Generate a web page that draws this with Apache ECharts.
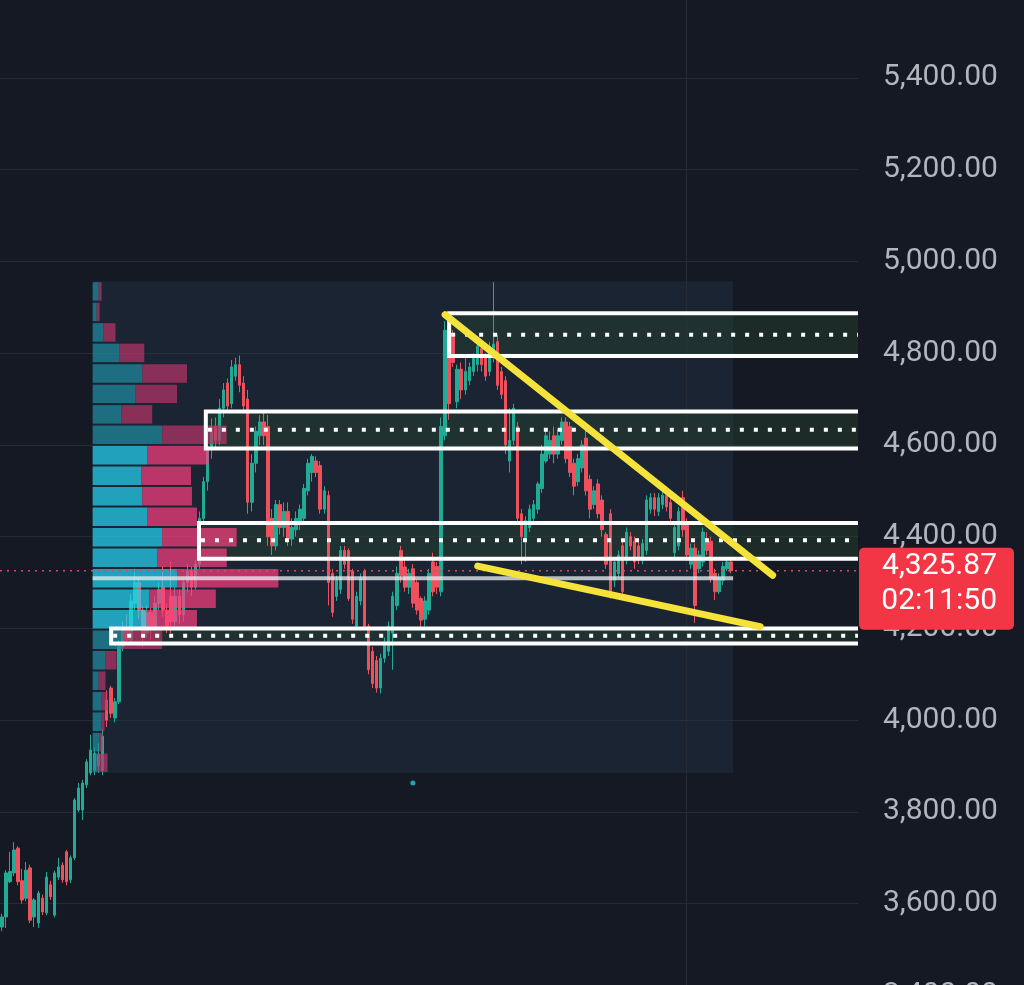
<!DOCTYPE html>
<html><head><meta charset="utf-8">
<script src="https://cdn.jsdelivr.net/npm/echarts@6/dist/echarts.min.js"></script>
<style>html,body{margin:0;padding:0;background:#151924;}#c{width:1024px;height:985px;}</style>
</head><body><div id="c"></div>
<script>
// ---- data ----
// candles: [open, close, low, high]
const candles = [
[3549,3571,3540,3578],[3571,3667,3547,3673],[3648,3670,3645,3713],[3667,3717,3660,3734],[3721,3648,3640,3725],
[3650,3608,3600,3676],[3612,3673,3605,3691],[3678,3564,3558,3685],[3571,3608,3549,3612],[3558,3623,3547,3628],
[3612,3582,3575,3620],[3580,3658,3575,3669],[3641,3615,3608,3650],[3575,3667,3570,3672],[3658,3680,3652,3700],
[3684,3652,3645,3690],[3713,3648,3640,3717],[3652,3700,3645,3705],[3700,3826,3695,3830],[3804,3852,3800,3863],
[3804,3863,3782,3870],[3859,3909,3852,3915],[3885,3935,3880,3968],[3891,3928,3880,3940],[3900,3925,3885,3950],
[3890,3965,3880,3980],[4044,4000,3985,4065],[4070,4015,4005,4075],[4005,4040,3995,4048],[4040,4160,4035,4175],
[4160,4200,4150,4215],[4200,4175,4165,4230],[4175,4260,4170,4275],[4255,4300,4240,4330],[4300,4240,4220,4310],
[4240,4190,4160,4250],[4190,4235,4180,4250],[4235,4200,4175,4245],[4200,4255,4195,4270],[4255,4285,4240,4300],
[4290,4240,4225,4335],[4240,4205,4190,4255],[4270,4215,4190,4345],[4215,4270,4200,4290],[4270,4230,4210,4285],
[4230,4300,4215,4310],[4300,4325,4280,4340],[4325,4290,4270,4335],[4290,4340,4285,4350],[4340,4440,4330,4455],
[4440,4520,4430,4530],[4520,4590,4500,4600],[4590,4640,4570,4658],[4640,4610,4595,4660],[4610,4680,4600,4700],
[4680,4720,4660,4735],[4735,4685,4670,4745],[4690,4770,4680,4785],[4750,4775,4740,4790],[4775,4730,4715,4795],
[4735,4685,4670,4750],[4700,4475,4450,4720],[4475,4560,4455,4580],[4560,4630,4540,4640],[4620,4650,4600,4665],
[4650,4620,4600,4670],[4640,4400,4380,4665],[4440,4380,4360,4460],[4380,4470,4370,4480],[4470,4420,4405,4480],
[4420,4455,4400,4475],[4455,4395,4380,4475],[4395,4420,4380,4440],[4415,4440,4400,4455],[4430,4460,4415,4470],
[4440,4505,4430,4515],[4500,4560,4490,4570],[4540,4575,4520,4580],[4565,4540,4530,4575],[4555,4460,4450,4565],
[4460,4500,4450,4510],[4490,4300,4250,4500],[4320,4235,4225,4330],[4270,4305,4260,4315],[4285,4370,4275,4380],
[4370,4340,4330,4380],[4370,4265,4260,4375],[4325,4220,4210,4330],[4205,4270,4200,4280],[4260,4310,4250,4320],
[4325,4205,4200,4330],[4205,4110,4100,4210],[4150,4080,4070,4160],[4130,4070,4060,4140],[4070,4135,4058,4145],
[4135,4170,4125,4180],[4150,4205,4140,4215],[4190,4270,4110,4280],[4250,4320,4240,4335],[4370,4315,4300,4380],
[4334,4290,4280,4350],[4290,4320,4275,4330],[4330,4255,4245,4340],[4300,4240,4230,4305],[4265,4218,4200,4270],
[4220,4260,4205,4270],[4240,4320,4230,4330],[4345,4280,4270,4365],[4335,4290,4275,4345],[4280,4640,4270,4660],
[4620,4850,4610,4870],[4835,4690,4655,4850],[4835,4780,4770,4850],[4694,4765,4680,4775],[4765,4720,4700,4780],
[4720,4760,4710,4790],[4740,4770,4730,4780],[4760,4790,4750,4800],[4775,4815,4760,4825],[4810,4775,4760,4820],
[4790,4750,4740,4800],[4760,4815,4750,4825],[4790,4820,4780,4955],[4825,4730,4720,4840],[4760,4710,4700,4770],
[4740,4600,4580,4750],[4565,4610,4540,4680],[4610,4680,4600,4690],[4640,4440,4430,4650],[4450,4400,4340,4460],
[4390,4435,4345,4445],[4420,4460,4410,4470],[4440,4470,4430,4480],[4460,4515,4450,4520],[4505,4580,4495,4600],
[4565,4620,4560,4630],[4580,4610,4570,4630],[4620,4580,4560,4640],[4580,4620,4570,4635],[4610,4650,4600,4660],
[4650,4570,4560,4660],[4640,4540,4530,4650],[4560,4510,4490,4570],[4520,4570,4510,4580],[4550,4600,4540,4610],
[4615,4500,4490,4630],[4525,4460,4440,4535],[4470,4500,4460,4510],[4515,4450,4440,4525],[4480,4415,4400,4490],
[4405,4340,4330,4410],[4450,4280,4265,4460],[4305,4345,4290,4355],[4320,4360,4310,4370],[4380,4280,4265,4390],
[4350,4410,4340,4420],[4400,4380,4370,4410],[4390,4345,4330,4400],[4380,4355,4340,4390],[4350,4385,4340,4395],
[4370,4480,4360,4490],[4460,4485,4450,4495],[4485,4460,4445,4495],[4455,4485,4445,4495],[4470,4490,4460,4500],
[4490,4465,4455,4500],[4475,4440,4430,4485],[4365,4420,4355,4430],[4380,4455,4370,4465],[4485,4415,4400,4500],
[4430,4360,4350,4440],[4340,4375,4330,4385],[4375,4250,4212,4385],[4330,4360,4320,4370],[4345,4410,4335,4420],
[4395,4370,4360,4410],[4390,4310,4300,4400],[4320,4280,4262,4330],[4280,4310,4275,4320],[4305,4335,4295,4345],
[4330,4345,4325,4350],[4345,4325.87,4320,4350]
];
const slotCount = 213;              // candle slots incl. empty future space
const yMin = 3400, yMax = 5600, yStep = 200;

// visible-range volume profile (rows top -> bottom)
const rangeStart = 23, rangeEnd = 181;
const profileHigh = 4957, profileLow = 3885;
const profileUp   = [6,4,11,27,50,43,29,70,55,49,50,55,70,65,85,57,54,30,13,6,9,9,7,5];
const profileDown = [3,3,12,25,45,42,31,65,62,50,50,50,75,70,102,67,51,40,11,7,6,3,3,10];
const valueAreaRows = [8,9,10,11,12,13,14,15,16];
const pocRow = 14;

// zones: start index, top / bottom / mid prices
const zoneStart = [111.0, 50.6, 48.9, 27.1];
const zoneTop    = [4887, 4673, 4430, 4200];
const zoneBottom = [4794, 4592, 4352, 4167];
const zoneMid    = [4840, 4633, 4392, 4184];

// trend lines: [x1, price1, x2, price2]
const trendLines = [[110.0, 4884, 191.3, 4316], [118.1, 4336, 188.2, 4204]];

const lastPrice = 4325.87;
const countdown = '02:11:50';
const sessionBreaks = [169.85];
const markerDots = [[102, 3863]];

// ---- chart ----
const fmt = v => Number(v).toLocaleString('en-US', {minimumFractionDigits: 2, maximumFractionDigits: 2});
const slotLabels = Array.from({length: slotCount}, (_, i) => String(i));
const rowSize = (profileHigh - profileLow) / profileUp.length;
const maxTotal = Math.max(...profileUp.map((u, i) => u + profileDown[i]));
const profileShare = 0.29;

const chart = echarts.init(document.getElementById('c'), null, {renderer: 'canvas'});
const zoneData = zoneStart.map((s, i) => [s, zoneTop[i], zoneBottom[i], zoneMid[i]]);
const profileData = profileUp.map((u, i) => [i, u, profileDown[i], valueAreaRows.includes(i) ? 1 : 0]);

chart.setOption({
  backgroundColor: '#151924',
  animation: false,
  grid: {left: 0, right: 166, top: -13.76, bottom: -10.4, containLabel: false, outerBoundsMode: 'none'},
  xAxis: [
    {type: 'category', data: slotLabels, show: false, boundaryGap: true},
    {type: 'value', min: -0.5, max: slotCount - 0.5, show: false}
  ],
  yAxis: {
    type: 'value', position: 'right', min: yMin, max: yMax, interval: yStep, scale: false,
    axisLine: {show: false}, axisTick: {show: false},
    splitLine: {lineStyle: {color: '#252a35', width: 1}},
    axisLabel: {margin: 25, color: '#b2b5be', fontSize: 30, fontFamily: 'Roboto', showMaxLabel: false, formatter: fmt}
  },
  series: [
    { // visible range background
      type: 'custom', xAxisIndex: 1, z: 1, silent: true,
      data: [[rangeStart, rangeEnd, profileHigh, profileLow]],
      renderItem: (params, api) => {
        const a = api.coord([api.value(0) - 0.5, api.value(2)]);
        const b = api.coord([api.value(1) + 0.5, api.value(3)]);
        return {type: 'rect', shape: {x: a[0], y: a[1], width: b[0] - a[0], height: b[1] - a[1]},
          style: {fill: 'rgba(38,56,78,0.35)'}};
      }
    },
    { // session break grid line
      type: 'custom', xAxisIndex: 1, z: 1, silent: true,
      data: sessionBreaks.map(v => [v, 4500]),
      renderItem: (params, api) => {
        const cs = params.coordSys;
        const x = Math.round(api.coord([api.value(0), 4500])[0]) + 0.5;
        return {type: 'line', shape: {x1: x, y1: 0, x2: x, y2: cs.y + cs.height},
          style: {stroke: '#252a35', lineWidth: 1}};
      }
    },
    { // zone fills
      type: 'custom', xAxisIndex: 1, z: 2, silent: true, data: zoneData,
      renderItem: (params, api) => {
        const cs = params.coordSys;
        const t = api.coord([api.value(0), api.value(1)]);
        const b = api.coord([api.value(0), api.value(2)]);
        const right = cs.x + cs.width;
        return {type: 'rect', shape: {x: t[0], y: t[1], width: right - t[0], height: b[1] - t[1]},
          style: {fill: 'rgba(38,66,46,0.45)'}};
      }
    },
    {
      type: 'candlestick', xAxisIndex: 0, z: 3, data: candles, barWidth: 3,
      itemStyle: {color: '#22ab94', color0: '#f0505c', borderColor: '#22ab94', borderColor0: '#f0505c', borderWidth: 1}
    },
    {
      type: 'scatter', xAxisIndex: 1, z: 3, data: markerDots, symbolSize: 5,
      itemStyle: {color: '#26c6da'}
    },
    { // volume profile
      type: 'custom', xAxisIndex: 1, z: 4, silent: true, data: profileData,
      renderItem: (params, api) => {
        const k = api.value(0), up = api.value(1), dn = api.value(2), va = api.value(3);
        const top = profileHigh - k * rowSize, bot = top - rowSize;
        const pT = api.coord([rangeStart - 0.5, top]);
        const pB = api.coord([rangeStart - 0.5, bot]);
        const pE = api.coord([rangeEnd + 0.5, top]);
        const W = pE[0] - pT[0];
        const sc = profileShare * W / maxTotal;
        const x0 = pT[0], y0 = pT[1] + 1, h = pB[1] - pT[1] - 2;
        const wu = up * sc, wd = dn * sc;
        const children = [
          {type: 'rect', shape: {x: x0, y: y0, width: wu, height: h},
            style: {fill: va ? 'rgba(37,215,245,0.7)' : 'rgba(32,143,163,0.7)'}},
          {type: 'rect', shape: {x: x0 + wu, y: y0, width: wd, height: h},
            style: {fill: va ? 'rgba(255,62,128,0.7)' : 'rgba(186,52,103,0.7)'}}
        ];
        if (k === pocRow) {
          const yc = (pT[1] + pB[1]) / 2;
          children.push({type: 'rect', shape: {x: x0, y: yc - 2, width: W, height: 4},
            style: {fill: 'rgba(230,233,240,0.78)'}});
        }
        return {type: 'group', children};
      }
    },
    { // zone borders and midlines
      type: 'custom', xAxisIndex: 1, z: 5, silent: true, data: zoneData,
      renderItem: (params, api) => {
        const cs = params.coordSys;
        const right = cs.x + cs.width;
        const t = api.coord([api.value(0), api.value(1)]);
        const b = api.coord([api.value(0), api.value(2)]);
        const m = api.coord([api.value(0), api.value(3)]);
        return {type: 'group', children: [
          {type: 'polyline', shape: {points: [[right, t[1]], [t[0], t[1]], [t[0], b[1]], [right, b[1]]]},
            style: {stroke: '#ffffff', lineWidth: 4, fill: null, lineJoin: 'miter'}},
          {type: 'line', shape: {x1: t[0] + 2, y1: m[1], x2: right, y2: m[1]},
            style: {stroke: '#ffffff', lineWidth: 4, lineDash: [4, 10]}}
        ]};
      }
    },
    { // last price line
      type: 'custom', xAxisIndex: 1, z: 6, silent: true, data: [[0, lastPrice]],
      renderItem: (params, api) => {
        const cs = params.coordSys;
        const y = api.coord([0, api.value(1)])[1];
        return {type: 'line', shape: {x1: cs.x, y1: y, x2: cs.x + cs.width, y2: y},
          style: {stroke: '#d9475e', lineWidth: 1.5, lineDash: [2, 5]}};
      }
    },
    { // trend lines
      type: 'custom', xAxisIndex: 1, z: 7, silent: true, data: trendLines,
      renderItem: (params, api) => {
        const a = api.coord([api.value(0), api.value(1)]);
        const b = api.coord([api.value(2), api.value(3)]);
        return {type: 'line', shape: {x1: a[0], y1: a[1], x2: b[0], y2: b[1]},
          style: {stroke: '#f5e23a', lineWidth: 7, lineCap: 'round'}};
      }
    },
    { // last price label
      type: 'custom', xAxisIndex: 1, z: 10, silent: true, data: [[0, lastPrice]],
      renderItem: (params, api) => {
        const cs = params.coordSys;
        const y = api.coord([0, api.value(1)])[1];
        const x = cs.x + cs.width + 1;
        return {type: 'group', children: [
          {type: 'rect', shape: {x: x, y: y - 23, width: 155, height: 82, r: 5}, style: {fill: '#f23645'}},
          {type: 'text', style: {x: x + 138, y: y - 4, text: fmt(api.value(1)), fill: '#ffffff',
            font: '30px Roboto', textAlign: 'right', textVerticalAlign: 'middle'}},
          {type: 'text', style: {x: x + 138, y: y + 31, text: countdown, fill: '#ffffff',
            font: '30px Roboto', textAlign: 'right', textVerticalAlign: 'middle'}}
        ]};
      }
    }
  ]
});
</script></body></html>
